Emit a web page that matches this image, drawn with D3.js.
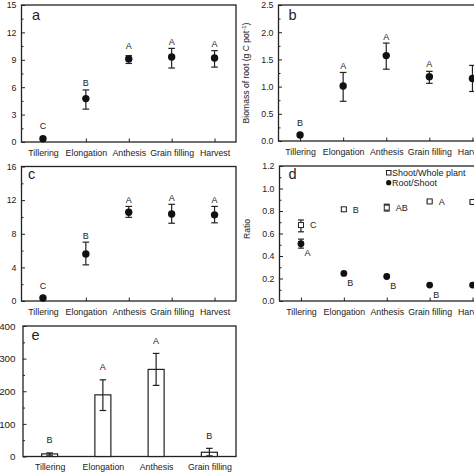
<!DOCTYPE html>
<html><head><meta charset="utf-8">
<script src="https://cdn.jsdelivr.net/npm/d3@7"></script>
<style>
html,body{margin:0;padding:0;background:#fff;}
svg{display:block;font-family:"Liberation Sans",Arial,sans-serif;}
</style></head>
<body><svg id="chart" width="474" height="474"></svg>
<script>
// ---------- DATA ----------
const stages5 = ["Tillering", "Elongation", "Anthesis", "Grain filling", "Harvest"];
const stages4 = ["Tillering", "Elongation", "Anthesis", "Grain filling"];

// panel a
const aMean = [0.35, 4.75, 9.1, 9.3, 9.2];
const aLow  = [0.35, 3.6, 8.6, 8.1, 8.2];
const aHigh = [0.35, 5.7, 9.45, 10.25, 10.0];
const aLetters = ["C", "B", "A", "A", "A"];
const aTicks = [0, 3, 6, 9, 12, 15];

// panel b
const bMean = [0.11, 1.01, 1.57, 1.18, 1.15];
const bLow  = [0.10, 0.73, 1.32, 1.06, 0.91];
const bHigh = [0.12, 1.26, 1.80, 1.28, 1.39];
const bLetters = ["B", "A", "A", "A", ""];
const bTicks = [0, 0.5, 1.0, 1.5, 2.0, 2.5];

// panel c
const cMean = [0.35, 5.6, 10.55, 10.35, 10.25];
const cLow  = [0.35, 4.3, 9.95, 9.25, 9.3];
const cHigh = [0.35, 7.0, 11.25, 11.5, 11.25];
const cLetters = ["C", "B", "A", "A", "A"];
const cTicks = [0, 4, 8, 12, 16];

// panel d
const dShootMean = [0.675, 0.815, 0.83, 0.885, 0.88];
const dShootLow  = [0.615, 0.80, 0.80, 0.875, 0.87];
const dShootHigh = [0.72, 0.83, 0.86, 0.895, 0.89];
const dShootLetters = ["C", "B", "AB", "A", ""];
const dRootMean = [0.51, 0.245, 0.218, 0.142, 0.142];
const dRootLow  = [0.47, 0.24, 0.21, 0.138, 0.138];
const dRootHigh = [0.55, 0.25, 0.226, 0.146, 0.146];
const dRootLetters = ["A", "B", "B", "B", ""];
const dTicks = [0, 0.2, 0.4, 0.6, 0.8, 1.0, 1.2];
const dSeries = ["Shoot/Whole plant", "Root/Shoot"];

// panel e
const eMean = [8, 189, 267, 13];
const eLow  = [4, 141, 218, 2];
const eHigh = [11, 235, 316, 25];
const eLetters = ["B", "A", "A", "B"];
const eTicks = [0, 100, 200, 300, 400];

// ---------- DRAWING ----------
const svg = d3.select("#chart");
const INK = "#222";
const FS = 8.8;

function makePanel(o) {
  const g = svg.append("g");
  const x = d3.scalePoint().domain(o.cats).range([o.L, o.R]).padding(0.5);
  const y = d3.scaleLinear().domain([o.ticks[0], o.ticks[o.ticks.length - 1]]).range([o.B, o.T]);
  const step = o.ticks[1] - o.ticks[0];
  const minor = d3.range(o.ticks[0] + step / 2, o.ticks[o.ticks.length - 1], step);

  const ya = g.append("g").attr("transform", `translate(${o.L},0)`)
    .call(d3.axisLeft(y).tickValues(o.ticks).tickSize(-3.5).tickPadding(o.yPad || 5).tickFormat(o.fmt));
  const ym = g.append("g").attr("transform", `translate(${o.L},0)`)
    .call(d3.axisLeft(y).tickValues(minor).tickSize(-2).tickFormat(""));
  const xa = g.append("g").attr("transform", `translate(0,${o.B})`)
    .call(d3.axisBottom(x).tickSize(-3.5).tickPadding(7.5));
  [ya, ym, xa].forEach(a => {
    a.select(".domain").remove();
    a.selectAll("line").attr("stroke", INK).attr("stroke-width", 1);
    a.selectAll("text").attr("fill", INK).style("font-size", FS + "px")
      .style("font-family", '"Liberation Sans",Arial,sans-serif');
  });
  if (o.yFS) ya.selectAll("text").style("font-size", o.yFS + "px");
  g.append("rect").attr("x", o.L).attr("y", o.T).attr("width", o.R - o.L).attr("height", o.B - o.T)
    .attr("fill", "none").attr("stroke", INK).attr("stroke-width", 1.3);
  g.append("text").attr("x", o.lx).attr("y", o.ly).text(o.label)
    .attr("fill", INK).style("font-size", "14.5px");
  return { g, x, y };
}

function errBars(p, cats, low, high, cap) {
  const sel = p.g.append("g").selectAll("g").data(cats.map((c, i) => ({ c, lo: low[i], hi: high[i] })))
    .join("g").filter(d => Math.abs(p.y(d.lo) - p.y(d.hi)) > 1.5);
  sel.append("line").attr("x1", d => p.x(d.c)).attr("x2", d => p.x(d.c))
    .attr("y1", d => p.y(d.lo)).attr("y2", d => p.y(d.hi)).attr("stroke", INK).attr("stroke-width", 1.2);
  ["lo", "hi"].forEach(k => sel.append("line")
    .attr("x1", d => p.x(d.c) - cap).attr("x2", d => p.x(d.c) + cap)
    .attr("y1", d => p.y(d[k])).attr("y2", d => p.y(d[k])).attr("stroke", INK).attr("stroke-width", 1.2));
}

function dots(p, cats, mean, r) {
  p.g.append("g").selectAll("circle").data(cats.map((c, i) => ({ c, v: mean[i] }))).join("circle")
    .attr("cx", d => p.x(d.c)).attr("cy", d => p.y(d.v)).attr("r", r).attr("fill", "#111");
}

function letters(p, cats, mean, high, lets) {
  p.g.append("g").selectAll("text").data(cats.map((c, i) => ({ c, m: mean[i], h: high[i], t: lets[i] })))
    .join("text").attr("text-anchor", "middle")
    .attr("x", d => p.x(d.c))
    .attr("y", d => Math.min(p.y(d.h), p.y(d.m) - 6) - 3.5)
    .text(d => d.t).attr("fill", INK).style("font-size", "9px");
}

function yTitle(x, y, main) {
  const t = svg.append("text").attr("transform", `translate(${x},${y}) rotate(-90)`)
    .attr("text-anchor", "middle").attr("fill", INK).style("font-size", "8.6px");
  t.append("tspan").text(main);
  return t;
}

// panel a
const pa = makePanel({ L: 21.5, T: 5, R: 236, B: 142, cats: stages5, ticks: aTicks, fmt: d3.format("d"), label: "a", lx: 32, ly: 20 });
errBars(pa, stages5, aLow, aHigh, 3.3);
dots(pa, stages5, aMean, 3.7);
letters(pa, stages5, aMean, aHigh, aLetters);

// panel b
const pb = makePanel({ L: 278.5, T: 5, R: 494, B: 141, cats: stages5, ticks: bTicks, fmt: d3.format(".1f"), label: "b", lx: 288.5, ly: 20 });
errBars(pb, stages5, bLow, bHigh, 3.3);
dots(pb, stages5, bMean, 3.7);
letters(pb, stages5, bMean, bHigh, bLetters);
{
  const t = yTitle(249, 73, "Biomass of root (g C pot");
  t.append("tspan").text("-1").style("font-size", "6px").attr("dy", -3);
  t.append("tspan").text(")").attr("dy", 3);
}

// panel c
const pc = makePanel({ L: 21.5, T: 166.5, R: 236, B: 301, cats: stages5, ticks: cTicks, fmt: d3.format("d"), label: "c", lx: 28, ly: 179 });
errBars(pc, stages5, cLow, cHigh, 3.3);
dots(pc, stages5, cMean, 3.7);
letters(pc, stages5, cMean, cHigh, cLetters);

// panel d
const pd = makePanel({ L: 279.5, T: 166, R: 494, B: 301, cats: stages5, ticks: dTicks, fmt: d3.format(".1f"), label: "d", lx: 288.5, ly: 179 });
errBars(pd, stages5, dShootLow, dShootHigh, 3);
errBars(pd, stages5, dRootLow, dRootHigh, 3);
pd.g.append("g").selectAll("rect").data(stages5.map((c, i) => ({ c, v: dShootMean[i] }))).join("rect")
  .attr("x", d => pd.x(d.c) - 2.5).attr("y", d => pd.y(d.v) - 2.5).attr("width", 5).attr("height", 5)
  .attr("fill", "#fff").attr("stroke", INK).attr("stroke-width", 1);
dots(pd, stages5, dRootMean, 3.4);
pd.g.append("g").selectAll("text").data(stages5.map((c, i) => ({ c, v: dShootMean[i], t: dShootLetters[i] }))).join("text")
  .attr("x", d => pd.x(d.c) + 9).attr("y", d => pd.y(d.v) + 3.2).text(d => d.t)
  .attr("fill", INK).style("font-size", "9px");
pd.g.append("g").selectAll("text").data(stages5.map((c, i) => ({ c, v: dRootMean[i], t: dRootLetters[i] }))).join("text")
  .attr("x", d => pd.x(d.c) + 3.5).attr("y", d => pd.y(d.v) + 12.5).text(d => d.t)
  .attr("fill", INK).style("font-size", "9px");
yTitle(250, 229, "Ratio");
// legend
{
  const lg = svg.append("g");
  lg.append("rect").attr("x", 386.5).attr("y", 170.5).attr("width", 4.5).attr("height", 4.5)
    .attr("fill", "#fff").attr("stroke", INK).attr("stroke-width", 1);
  lg.append("circle").attr("cx", 388.7).attr("cy", 182.7).attr("r", 2.6).attr("fill", "#111");
  lg.selectAll("text").data(dSeries).join("text").attr("x", 392).attr("y", (d, i) => 176 + i * 10)
    .text(d => d).attr("fill", INK).style("font-size", "9px");
}

// panel e
const pe = makePanel({ L: 23, T: 326, R: 236, B: 456.5, cats: stages4, ticks: eTicks, fmt: d3.format("d"), label: "e", lx: 31.5, ly: 339.5, yFS: 9.8, yPad: 7.5 });
pe.g.append("g").selectAll("rect").data(stages4.map((c, i) => ({ c, v: eMean[i] }))).join("rect")
  .attr("x", d => pe.x(d.c) - 8).attr("width", 16)
  .attr("y", d => pe.y(d.v)).attr("height", d => pe.y(0) - pe.y(d.v))
  .attr("fill", "#fff").attr("stroke", INK).attr("stroke-width", 1.2);
errBars(pe, stages4, eLow, eHigh, 3.3);
letters(pe, stages4, eHigh, eHigh, eLetters);
</script></body></html>
